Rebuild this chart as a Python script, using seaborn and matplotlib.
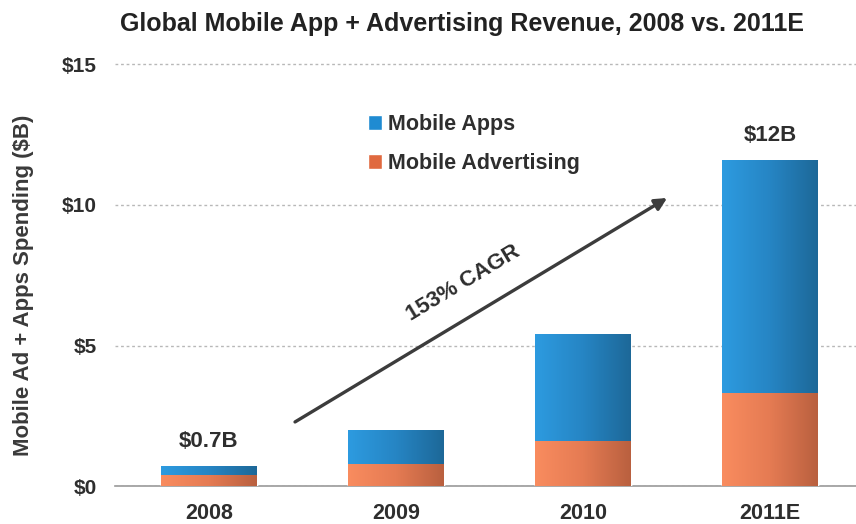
import matplotlib
matplotlib.use("Agg")
import matplotlib.pyplot as plt
import numpy as np
import pandas as pd
import seaborn as sns
from matplotlib.colors import LinearSegmentedColormap
from matplotlib.patches import Patch
from matplotlib.ticker import FixedLocator

# --- data -------------------------------------------------------------
years = ["2008", "2009", "2010", "2011E"]
mobile_apps = [0.3, 1.2, 3.8, 8.3]            # $B
mobile_advertising = [0.4, 0.8, 1.6, 3.3]     # $B
total_labels = ["$0.7B", "", "", "$12B"]
y_ticks = [0, 5, 10, 15]
y_tick_labels = ["$0", "$5", "$10", "$15"]
series_names = ["Mobile Apps", "Mobile Advertising"]
cagr_label = "153% CAGR"

df = pd.DataFrame({"year": years, "apps": mobile_apps, "ads": mobile_advertising})
df["total"] = df["apps"] + df["ads"]

# --- style ------------------------------------------------------------
sns.set_theme(style="white")
plt.rcParams["font.family"] = ["Liberation Sans", "DejaVu Sans"]
TEXT = "#2e2e2e"
BLUE = "#2589c8"
ORANGE = "#e97c55"

fig = plt.figure(figsize=(8.56, 5.24), dpi=100)
ax = fig.add_axes([0.1343, 0.0725, 0.8657, 0.8366])

# stacked bars: full stack in blue, advertising share drawn over it
sns.barplot(data=df, x="year", y="total", color=BLUE, saturation=1,
            width=0.51, ax=ax, zorder=3)
sns.barplot(data=df, x="year", y="ads", color=ORANGE, saturation=1,
            width=0.51, ax=ax, zorder=3)

# horizontal shading inside each bar
apps_cmap = LinearSegmentedColormap.from_list("apps", ["#2d9be0", "#2685c4", "#1d6898"])
ads_cmap = LinearSegmentedColormap.from_list("ads", ["#f98c5f", "#e57b53", "#b9603f"])
grad = np.linspace(0, 1, 256).reshape(1, -1)
n = len(years)
for i, p in enumerate(list(ax.patches)):
    cmap = apps_cmap if i < n else ads_cmap
    x0, y0, w, h = p.get_x(), p.get_y(), p.get_width(), p.get_height()
    im = ax.imshow(grad, cmap=cmap, extent=[x0, x0 + w, y0, y0 + h],
                   aspect="auto", interpolation="bilinear",
                   zorder=3.05 if i < n else 3.1)
    im.set_clip_path(p)

# total labels above selected bars
for i, (lab, tot) in enumerate(zip(total_labels, df["total"])):
    if lab:
        ax.annotate(lab, (i, tot), xytext=(0, 10), textcoords="offset points",
                    ha="center", va="bottom", fontsize=16, fontweight="bold",
                    color=TEXT, zorder=6)

# growth arrow
ax.annotate("", xy=(2.45, 10.25), xytext=(0.46, 2.28),
            arrowprops=dict(arrowstyle="-|>", color="#3c3c3c", lw=2.4,
                            mutation_scale=18, shrinkA=0, shrinkB=0),
            zorder=5)
ax.text(1.36, 7.2, cagr_label, rotation=31, ha="center", va="center",
        fontsize=16, fontweight="bold", color=TEXT, zorder=6)

# axes
ax.set_xlim(-0.503, 3.46)
ax.set_ylim(0, 15.6)
ax.set_yticks(y_ticks)
ax.set_yticklabels(y_tick_labels)
ax.set_xlabel("")
ax.set_ylabel("")
ax.yaxis.grid(True, linestyle=(0, (2, 2)), color="#b8b8b8", lw=1)
ax.set_axisbelow(True)
for s in ["left", "top", "right"]:
    ax.spines[s].set_visible(False)
ax.spines["bottom"].set_color("#9a9a9a")
ax.spines["bottom"].set_linewidth(1.2)

ax.tick_params(axis="y", length=0, pad=13, labelsize=15, labelcolor=TEXT)
ax.tick_params(axis="x", which="major", length=0, pad=12, labelsize=15.5,
               labelcolor=TEXT)
ax.xaxis.set_minor_locator(FixedLocator(np.arange(-0.5, n - 1, 1.0)))
ax.tick_params(axis="x", which="minor", length=5, width=1, color="#b0b0b0",
               direction="out")
for lab in ax.get_xticklabels() + ax.get_yticklabels():
    lab.set_fontweight("bold")

# legend
handles = [Patch(facecolor="#1f8bd2", label=series_names[0]),
           Patch(facecolor="#e0693f", label=series_names[1])]
leg = ax.legend(handles=handles, loc="upper left", bbox_to_anchor=(0.315, 0.893),
                frameon=False, handlelength=0.65, handleheight=0.65,
                handletextpad=0.3, labelspacing=0.85,
                prop={"size": 15.5, "weight": "bold"})
for t in leg.get_texts():
    t.set_color(TEXT)

fig.text(0.0269, 0.456, "Mobile Ad + Apps Spending ($B)", rotation=90,
         ha="center", va="center", fontsize=16, fontweight="bold", color="#3a3a3a")
fig.text(0.540, 0.954, "Global Mobile App + Advertising Revenue, 2008 vs. 2011E",
         ha="center", va="center", fontsize=18, fontweight="bold", color="#222222")

fig.savefig("out.png", dpi=100)
